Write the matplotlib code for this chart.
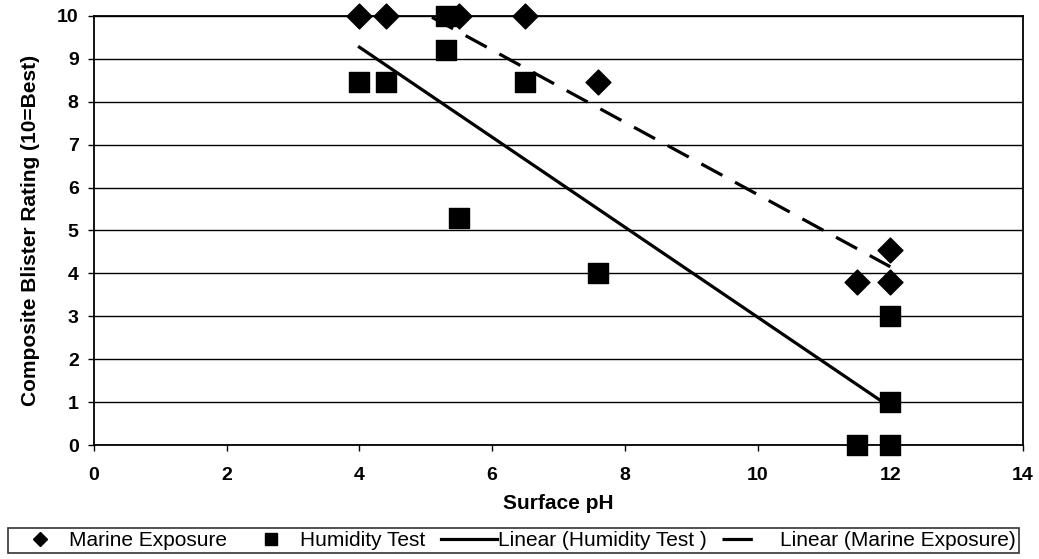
import numpy as np
import matplotlib.pyplot as plt
from matplotlib.lines import Line2D

# data
marine_x = [4.0, 4.4, 5.5, 6.5, 7.6, 11.5, 12.0, 12.0]
marine_y = [10.0, 10.0, 10.0, 10.0, 8.45, 3.8, 4.55, 3.8]
humid_x = [4.0, 4.4, 5.3, 5.3, 5.5, 6.5, 7.6, 11.5, 12.0, 12.0, 12.0]
humid_y = [8.45, 8.45, 9.2, 10.0, 5.3, 8.45, 4.0, 0.0, 0.0, 1.0, 3.0]

xticks = [0, 2, 4, 6, 8, 10, 12, 14]
yticks = list(range(0, 11))

plt.rcParams['font.family'] = ['Liberation Sans', 'DejaVu Sans']

fig = plt.figure(figsize=(10.39, 5.59), dpi=100)
ax = fig.add_axes([94 / 1039, 1 - 445 / 559, 929 / 1039, 429 / 559])

# linear trend lines over the data range
hx = np.array([min(humid_x), max(humid_x)])
hp = np.polyfit(humid_x, humid_y, 1)
mx = np.array([min(marine_x), max(marine_x)])
mp = np.polyfit(marine_x, marine_y, 1)

ax.plot(hx, np.polyval(hp, hx), color='black', lw=2.3, zorder=2)
ax.plot(mx, np.polyval(mp, mx), color='black', lw=2.3, ls=(0, (7.5, 4.5)),
        zorder=2)

ax.scatter(marine_x, marine_y, marker='D', s=160, color='black', zorder=3,
           clip_on=False)
ax.scatter(humid_x, humid_y, marker='s', s=190, color='black', zorder=3,
           clip_on=False)

ax.set_xlim(0, 14)
ax.set_ylim(0, 10)
ax.set_xticks(xticks)
ax.set_yticks(yticks)
ax.tick_params(axis='both', direction='out', length=4, width=1, labelsize=14)
ax.tick_params(axis='x', pad=12)
ax.tick_params(axis='y', pad=7)
for lab in ax.get_xticklabels() + ax.get_yticklabels():
    lab.set_fontweight('bold')

ax.grid(True, axis='y', color='black', lw=1)
ax.set_axisbelow(True)
for s in ax.spines.values():
    s.set_linewidth(1.3)

ax.set_xlabel('Surface pH', fontsize=15, fontweight='bold', labelpad=7)
ax.set_ylabel('Composite Blister Rating (10=Best)', fontsize=15,
              fontweight='bold', labelpad=12)

# legend proxies
handles = [
    Line2D([], [], marker='D', ls='none', color='black', markersize=7),
    Line2D([], [], marker='s', ls='none', color='black', markersize=8),
    Line2D([], [], color='black', lw=2.3),
    Line2D([], [], color='black', lw=2.3, ls=(0, (9.5, 20))),
]
labels = ['Marine Exposure', 'Humidity Test', 'Linear (Humidity Test )',
          'Linear (Marine Exposure)']
leg = fig.legend(handles, labels,
                 loc='lower center', bbox_to_anchor=(513.5 / 1039, 0.01),
                 ncol=4, fontsize=15, frameon=True,
                 fancybox=False, edgecolor='black', handlelength=2.7,
                 handletextpad=0.05, columnspacing=0.75, borderpad=0.15,
                 borderaxespad=0)
leg.get_frame().set_linewidth(1.2)

plt.savefig('out.png', dpi=100)
